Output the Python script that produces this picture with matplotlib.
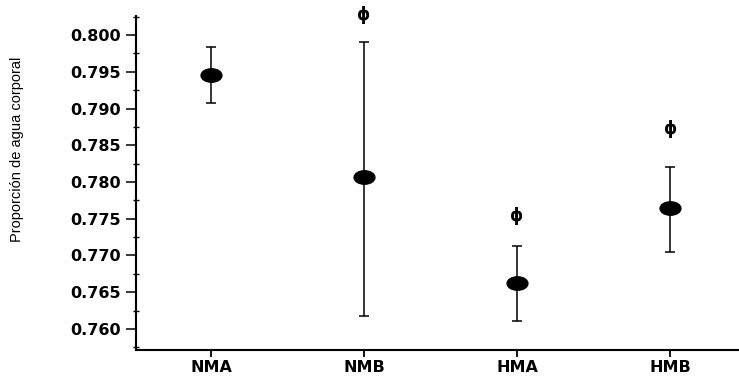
import numpy as np
import matplotlib
matplotlib.use("Agg")
from matplotlib import pyplot as plt
from matplotlib import path as mpath
from matplotlib.transforms import Affine2D
from matplotlib.ticker import MultipleLocator

# Data
groups = ["NMA", "NMB", "HMA", "HMB"]
means = [0.7946, 0.7807, 0.7662, 0.7764]
upper = [0.7984, 0.7990, 0.7713, 0.7821]
lower = [0.7908, 0.7617, 0.7611, 0.7705]
phi_y = [None, 0.8027, 0.7754, 0.7872]
yticks = [0.760, 0.765, 0.770, 0.775, 0.780, 0.785, 0.790, 0.795, 0.800]

x = np.arange(1, len(groups) + 1)
err = [np.array(means) - np.array(lower), np.array(upper) - np.array(means)]

fig = plt.figure(figsize=(7.39, 3.77), dpi=100)
ax = fig.add_axes([136 / 739, 1 - 350 / 377, 603 / 739, 334 / 377])

# wide ellipse marker
ell = Affine2D().scale(1.55, 1.0).transform_path(mpath.Path.unit_circle())

ax.errorbar(x, means, yerr=err, fmt="none", ecolor="black", elinewidth=1.1,
            capsize=3.6, capthick=1.1)
ax.plot(x, means, linestyle="none", marker=ell, markersize=15,
        color="black", zorder=3)

for xi, py in zip(x, phi_y):
    if py is not None:
        ax.text(xi, py, "ϕ", ha="center", va="center", fontsize=12,
                fontweight="bold", clip_on=False)

ax.set_xlim(0.51, 4.45)
ax.set_ylim(0.75714, 0.80259)
ax.set_xticks(x)
ax.set_xticklabels(groups, fontsize=11.5, fontweight="bold")
ax.yaxis.set_minor_locator(MultipleLocator(0.0025))
ax.set_yticks(yticks)
ax.set_yticklabels([f"{v:.3f}" for v in yticks], fontsize=11.5,
                   fontweight="bold")

ax.spines["top"].set_visible(False)
ax.spines["right"].set_visible(False)
ax.spines["left"].set_linewidth(1.5)
ax.spines["bottom"].set_linewidth(1.5)
ax.tick_params(axis="y", which="major", direction="out", length=7, width=1.1,
               pad=4)
ax.tick_params(axis="y", which="minor", direction="inout", length=5, width=1.0)
ax.tick_params(axis="x", direction="out", length=5, width=1.3, pad=2)

ax.set_ylabel("Proporción de agua corporal",
              family=["Liberation Sans", "DejaVu Sans"], fontsize=10.5)
ax.yaxis.set_label_coords(-0.186, 0.60)

fig.savefig("out.png", dpi=100)
